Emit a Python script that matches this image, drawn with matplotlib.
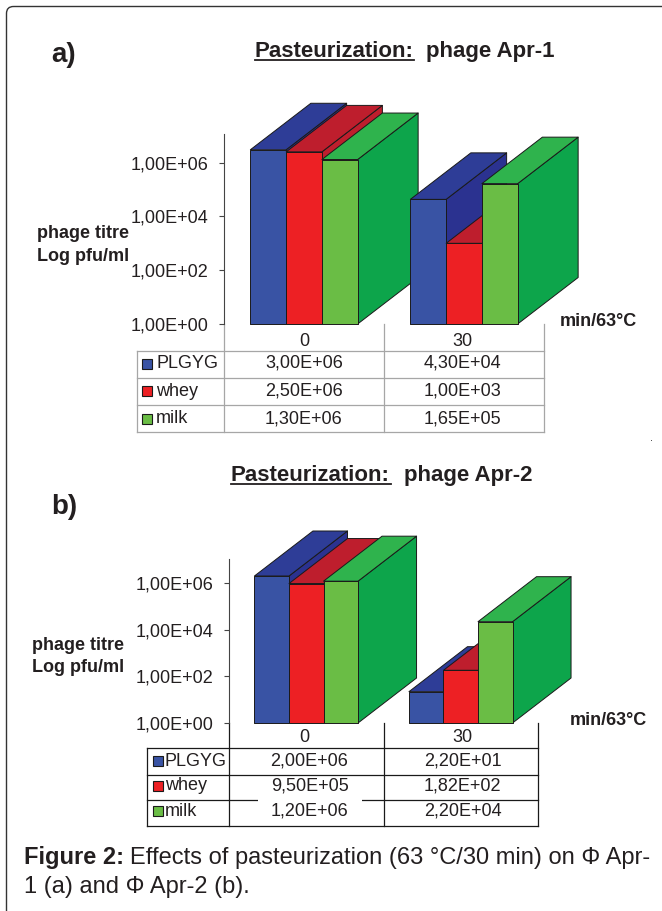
#!/usr/bin/env python3
"""Pasteurization of phages Apr-1 / Apr-2: two pseudo-3D log bar charts with data tables."""
import matplotlib; matplotlib.use("Agg")
import matplotlib.pyplot as plt
from matplotlib.patches import Polygon, FancyBboxPatch, Rectangle

plt.rcParams["font.family"] = ["Liberation Sans", "DejaVu Sans"]
INK = "#231F20"

SERIES = ["PLGYG", "whey", "milk"]
TIMES = ["0", "30"]
APR1 = {"PLGYG": [3.00e6, 4.30e4], "whey": [2.50e6, 1.00e3], "milk": [1.30e6, 1.65e5]}
APR2 = {"PLGYG": [2.00e6, 2.20e1], "whey": [9.50e5, 1.82e2], "milk": [1.20e6, 2.20e4]}
YTICKS = [1, 1e2, 1e4, 1e6]
YTICKLABELS = ["1,00E+00", "1,00E+02", "1,00E+04", "1,00E+06"]

# front, top, side
COLORS = {"PLGYG": ("#3953A4", "#2E3D97", "#2B3290"),
          "whey": ("#ED2024", "#BE1E2D", "#BE1E2D"),
          "milk": ("#6ABD45", "#2FB34D", "#0DA54B")}

W, H = 662, 911
fig = plt.figure(figsize=(W / 100, H / 100), dpi=100)
bg = fig.add_axes([0, 0, 1, 1]); bg.set_xlim(0, W); bg.set_ylim(H, 0); bg.axis("off")

def fmt(v): return f"{v:.2E}".replace(".", ",")

def panel(data, left, right, top, y0, ppd, ddx, ddy):
    """left/right/top/y0 in image pixels, ppd = pixels per decade, ddx/ddy = bar depth in pixels"""
    ax = fig.add_axes([left / W, 1 - y0 / H, (right - left) / W, (y0 - top) / H])
    ax.patch.set_alpha(0)
    ax.set_yscale("log"); ax.set_xlim(-0.5, 1.5); ax.set_ylim(1, 10 ** ((y0 - top) / ppd))
    for s in ["top", "right", "bottom"]: ax.spines[s].set_visible(False)
    ax.spines["left"].set_color("#444444")
    ax.set_xticks([])
    ax.set_yticks(YTICKS); ax.set_yticklabels(YTICKLABELS, fontsize=13, color=INK)
    ax.minorticks_off()
    ax.tick_params(axis="y", length=3.5, width=0.8, color="#444444", pad=8)
    unit = (right - left) / 2
    bw = 0.2235
    dx = ddx / unit; dy = 10 ** (ddy / ppd)
    for g in range(len(TIMES)):
        for k, name in enumerate(SERIES):
            v = data[name][g]
            x0 = g + (k - 1.5) * bw; x1 = x0 + bw
            cf, ct, cs = COLORS[name]
            kw = dict(edgecolor="#1a1a1a", lw=0.7, clip_on=False, joinstyle="round")
            ax.add_patch(Polygon([(x1, 1), (x1 + dx, dy), (x1 + dx, v * dy), (x1, v)], facecolor=cs, **kw))
            ax.add_patch(Polygon([(x0, v), (x0 + dx, v * dy), (x1 + dx, v * dy), (x1, v)], facecolor=ct, **kw))
            ax.add_patch(Rectangle((x0, 1), bw, v - 1, facecolor=cf, **kw))
    return ax

panel(APR1, 224, 544, 134, 324, 26.9, 60.5, 46.5)
panel(APR2, 229, 538, 559, 723, 23.33, 58.5, 45)

def table(data, cols, rows, key_x, label_x, val_x, row_y, cat_y, cat_x, y0, color):
    lw = 0.9
    for c in cols[1:]: bg.plot([c, c], [y0, rows[-1]], color=color, lw=lw)
    bg.plot([cols[0], cols[0]], [rows[0], rows[-1]], color=color, lw=lw)
    for r in rows: bg.plot([cols[0], cols[-1]], [r, r], color=color, lw=lw)
    for t, x in zip(TIMES, cat_x):
        bg.text(x, cat_y, t, ha="center", va="center", fontsize=13, color=INK)
    for name, y in zip(SERIES, row_y):
        bg.add_patch(Rectangle((key_x, y - 5), 10, 10, facecolor=COLORS[name][0], edgecolor="#1a1a1a", lw=0.8))
        bg.text(label_x, y, name, ha="left", va="center", fontsize=13, color=INK)
        for v, x in zip(data[name], val_x):
            bg.text(x, y, fmt(v), ha="center", va="center", fontsize=13, color=INK)

table(APR1, [137, 224, 384, 544], [351, 378, 405, 432], 142, 156, [304, 462.5],
      [363.5, 391, 418.5], 341, [304, 462], 324, "#a6a6a6")
table(APR2, [147, 229, 383.5, 538], [748, 774.5, 800, 825.5], 153, 165, [309.5, 462.5],
      [761, 786, 811], 738, [304, 462], 723, "#1a1a1a")
# the row rule is broken behind the 1,20E+06 cell
bg.add_patch(Rectangle((257.5, 798.5), 104.5, 3, facecolor="white", edgecolor="none", zorder=3))

# headings and axis captions
def heading(x_under, x_plain, base, plain):
    bg.text(x_under, base, "Pasteurization:", fontsize=16, fontweight="bold", color=INK, va="baseline")
    bg.plot([x_under, x_under + 159.5], [base + 2.5, base + 2.5], color=INK, lw=1.3)
    bg.text(x_plain, base, plain, fontsize=16, fontweight="bold", color=INK, va="baseline")

heading(254.5, 425.5, 57, "phage Apr-1")
heading(231, 404.5, 481, "phage Apr-2")
bg.text(51, 62, "a)", fontsize=20, fontweight="bold", color=INK, va="baseline")
bg.text(51, 514, "b)", fontsize=20, fontweight="bold", color=INK, va="baseline")
for x, y1, y2 in [(37, 238, 261), (31.5, 650, 672)]:
    bg.text(x, y1, "phage titre", fontsize=13, fontweight="bold", color=INK, va="baseline")
    bg.text(x, y2, "Log pfu/ml", fontsize=13, fontweight="bold", color=INK, va="baseline")
bg.text(560, 326, "min/63°C", fontsize=13, fontweight="bold", color=INK, va="baseline")
bg.text(569.5, 725, "min/63°C", fontsize=13, fontweight="bold", color=INK, va="baseline")

# caption
bg.text(24, 864, "Figure 2:", fontsize=17, fontweight="bold", color=INK, va="baseline")
bg.text(130, 864, "Effects of pasteurization (63 °C/30 min) on Φ Apr-", fontsize=17, color=INK, va="baseline")
bg.text(24, 893, "1 (a) and Φ Apr-2 (b).", fontsize=17, color=INK, va="baseline")

# page frame runs off the right and bottom edge
bg.add_patch(FancyBboxPatch((6.5, 6.5), 760, 960, boxstyle="round,pad=0,rounding_size=7",
                            facecolor="none", edgecolor="#333333", lw=1.0, clip_on=True))
bg.plot([651], [441], marker=",", color="#555555")

fig.savefig("out.png", dpi=100)
